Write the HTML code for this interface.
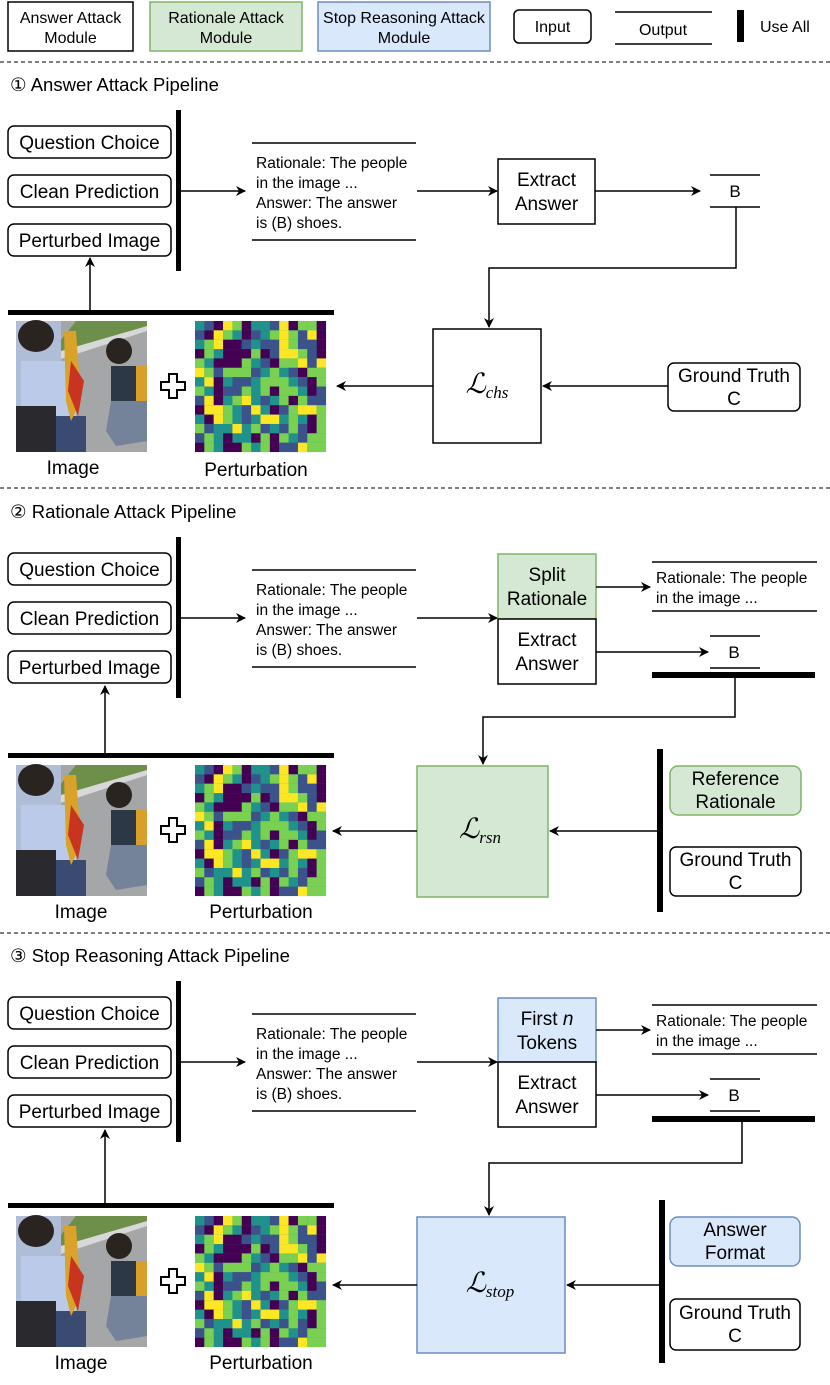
<!DOCTYPE html>
<html><head><meta charset="utf-8"><style>
html,body{margin:0;padding:0;background:#fff}
svg{display:block}
text{font-family:"Liberation Sans",sans-serif;fill:#000}
.p{fill:#440154}.b{fill:#3b528b}.g{fill:#7ad151}.y{fill:#fde725}.t{fill:#21918c}
.bx{fill:#fff;stroke:#000;stroke-width:1.5}
.gr{fill:#d5e8d4;stroke:#82b366;stroke-width:1.5}
.bl{fill:#dae8fc;stroke:#6c8ebf;stroke-width:1.5}
.ln{stroke:#000;stroke-width:1.5;fill:none}
.bar{fill:#000}
.m{font-size:19px}
.lg{font-size:16px}
.ti{font-size:18.5px}
.L{font-family:"Liberation Serif",serif;font-style:italic;font-size:28px}
.L tspan{font-size:17px}
</style></head><body>
<svg width="830" height="1385" viewBox="0 0 830 1385" xmlns="http://www.w3.org/2000/svg">
<defs>
<marker id="ar" markerWidth="10" markerHeight="10" refX="9" refY="5" orient="auto" markerUnits="userSpaceOnUse"><path d="M0,0 L10,5 L0,10 L3,5 z" fill="#000"/></marker>
<g id="img">
<rect width="131" height="131" fill="#a4a6a8"/>
<path d="M60,0 L131,0 L131,8 L40,40 L40,25 Z" fill="#6d8f4a"/>
<path d="M45,30 L131,5 L131,10 L45,38Z" fill="#d8d8d8"/>
<rect x="0" y="0" width="45" height="131" fill="#b0bdd6"/>
<ellipse cx="20" cy="15" rx="18" ry="16" fill="#2a2420"/>
<rect x="5" y="40" width="55" height="60" fill="#bccaea"/>
<rect x="0" y="85" width="40" height="46" fill="#2a2a2e"/>
<rect x="40" y="95" width="30" height="36" fill="#3a4a70"/>
<path d="M48,10 L60,10 L65,80 L55,100 L50,80 Z" fill="#d9a22a"/>
<path d="M55,40 L68,60 L62,95 L52,70Z" fill="#c83420"/>
<ellipse cx="103" cy="30" rx="13" ry="13" fill="#2a2420"/>
<rect x="95" y="45" width="36" height="40" fill="#2c3846"/>
<rect x="120" y="45" width="11" height="35" fill="#d8a02a"/>
<path d="M95,80 L131,80 L131,120 L100,125 L90,110Z" fill="#74829a"/>
</g>
<g id="pert" transform="scale(9.36)">
<rect width="14" height="14" class="t"/>
<rect x="1" y="0" width="1" height="1" class="b"/><rect x="2" y="0" width="1" height="1" class="p"/><rect x="3" y="0" width="1" height="1" class="y"/><rect x="4" y="0" width="1" height="1" class="g"/><rect x="5" y="0" width="1" height="1" class="p"/><rect x="8" y="0" width="1" height="1" class="b"/><rect x="9" y="0" width="1" height="1" class="y"/><rect x="10" y="0" width="1" height="1" class="p"/><rect x="11" y="0" width="1" height="1" class="g"/><rect x="12" y="0" width="1" height="1" class="g"/><rect x="13" y="0" width="1" height="1" class="p"/>
<rect x="0" y="1" width="1" height="1" class="b"/><rect x="1" y="1" width="1" height="1" class="p"/><rect x="2" y="1" width="1" height="1" class="y"/><rect x="3" y="1" width="1" height="1" class="g"/><rect x="5" y="1" width="1" height="1" class="p"/><rect x="6" y="1" width="1" height="1" class="b"/><rect x="8" y="1" width="1" height="1" class="g"/><rect x="9" y="1" width="1" height="1" class="y"/><rect x="10" y="1" width="1" height="1" class="g"/><rect x="11" y="1" width="1" height="1" class="b"/><rect x="12" y="1" width="1" height="1" class="y"/><rect x="13" y="1" width="1" height="1" class="p"/>
<rect x="1" y="2" width="1" height="1" class="g"/><rect x="2" y="2" width="1" height="1" class="y"/><rect x="3" y="2" width="2" height="1" class="p"/><rect x="5" y="2" width="1" height="1" class="b"/><rect x="7" y="2" width="2" height="1" class="b"/><rect x="9" y="2" width="1" height="1" class="y"/><rect x="10" y="2" width="1" height="1" class="g"/><rect x="11" y="2" width="2" height="1" class="b"/><rect x="13" y="2" width="1" height="1" class="p"/>
<rect x="0" y="3" width="1" height="1" class="p"/><rect x="1" y="3" width="1" height="1" class="g"/><rect x="3" y="3" width="3" height="1" class="p"/><rect x="6" y="3" width="1" height="1" class="g"/><rect x="7" y="3" width="1" height="1" class="p"/><rect x="8" y="3" width="1" height="1" class="b"/><rect x="9" y="3" width="2" height="1" class="y"/><rect x="11" y="3" width="1" height="1" class="g"/><rect x="12" y="3" width="1" height="1" class="b"/><rect x="13" y="3" width="1" height="1" class="p"/>
<rect x="0" y="4" width="1" height="1" class="g"/><rect x="2" y="4" width="3" height="1" class="p"/><rect x="5" y="4" width="1" height="1" class="g"/><rect x="7" y="4" width="1" height="1" class="b"/><rect x="8" y="4" width="1" height="1" class="p"/><rect x="9" y="4" width="2" height="1" class="g"/><rect x="11" y="4" width="1" height="1" class="y"/><rect x="12" y="4" width="1" height="1" class="b"/><rect x="13" y="4" width="1" height="1" class="y"/>
<rect x="0" y="5" width="1" height="1" class="y"/><rect x="1" y="5" width="1" height="1" class="g"/><rect x="2" y="5" width="1" height="1" class="b"/><rect x="3" y="5" width="3" height="1" class="g"/><rect x="6" y="5" width="1" height="1" class="b"/><rect x="8" y="5" width="1" height="1" class="g"/><rect x="10" y="5" width="1" height="1" class="b"/><rect x="11" y="5" width="1" height="1" class="p"/><rect x="12" y="5" width="2" height="1" class="g"/>
<rect x="1" y="6" width="1" height="1" class="y"/><rect x="2" y="6" width="1" height="1" class="p"/><rect x="4" y="6" width="2" height="1" class="b"/><rect x="7" y="6" width="3" height="1" class="g"/><rect x="11" y="6" width="1" height="1" class="b"/><rect x="12" y="6" width="1" height="1" class="p"/><rect x="13" y="6" width="1" height="1" class="g"/>
<rect x="0" y="7" width="1" height="1" class="g"/><rect x="2" y="7" width="1" height="1" class="p"/><rect x="3" y="7" width="2" height="1" class="b"/><rect x="5" y="7" width="1" height="1" class="g"/><rect x="7" y="7" width="1" height="1" class="g"/><rect x="8" y="7" width="1" height="1" class="p"/><rect x="9" y="7" width="2" height="1" class="g"/><rect x="12" y="7" width="1" height="1" class="p"/><rect x="13" y="7" width="1" height="1" class="b"/>
<rect x="0" y="8" width="1" height="1" class="b"/><rect x="1" y="8" width="1" height="1" class="y"/><rect x="2" y="8" width="1" height="1" class="p"/><rect x="4" y="8" width="1" height="1" class="g"/><rect x="5" y="8" width="1" height="1" class="y"/><rect x="7" y="8" width="1" height="1" class="b"/><rect x="9" y="8" width="1" height="1" class="g"/><rect x="10" y="8" width="1" height="1" class="p"/><rect x="11" y="8" width="1" height="1" class="g"/><rect x="12" y="8" width="2" height="1" class="b"/>
<rect x="0" y="9" width="1" height="1" class="p"/><rect x="1" y="9" width="2" height="1" class="y"/><rect x="3" y="9" width="1" height="1" class="g"/><rect x="5" y="9" width="1" height="1" class="b"/><rect x="6" y="9" width="1" height="1" class="y"/><rect x="8" y="9" width="1" height="1" class="p"/><rect x="9" y="9" width="1" height="1" class="b"/><rect x="10" y="9" width="1" height="1" class="g"/><rect x="11" y="9" width="2" height="1" class="y"/><rect x="13" y="9" width="1" height="1" class="g"/>
<rect x="1" y="10" width="1" height="1" class="p"/><rect x="2" y="10" width="1" height="1" class="y"/><rect x="3" y="10" width="1" height="1" class="g"/><rect x="5" y="10" width="1" height="1" class="b"/><rect x="7" y="10" width="2" height="1" class="y"/><rect x="10" y="10" width="1" height="1" class="g"/><rect x="12" y="10" width="1" height="1" class="p"/><rect x="13" y="10" width="1" height="1" class="g"/>
<rect x="0" y="11" width="1" height="1" class="g"/><rect x="1" y="11" width="1" height="1" class="b"/><rect x="4" y="11" width="1" height="1" class="y"/><rect x="6" y="11" width="1" height="1" class="g"/><rect x="7" y="11" width="1" height="1" class="b"/><rect x="9" y="11" width="1" height="1" class="b"/><rect x="10" y="11" width="1" height="1" class="g"/><rect x="11" y="11" width="1" height="1" class="b"/><rect x="12" y="11" width="1" height="1" class="p"/><rect x="13" y="11" width="1" height="1" class="g"/>
<rect x="0" y="12" width="1" height="1" class="b"/><rect x="1" y="12" width="1" height="1" class="g"/><rect x="3" y="12" width="1" height="1" class="p"/><rect x="6" y="12" width="1" height="1" class="p"/><rect x="7" y="12" width="1" height="1" class="g"/><rect x="8" y="12" width="1" height="1" class="p"/><rect x="9" y="12" width="1" height="1" class="g"/><rect x="11" y="12" width="1" height="1" class="b"/><rect x="12" y="12" width="2" height="1" class="g"/>
<rect x="0" y="13" width="1" height="1" class="p"/><rect x="1" y="13" width="1" height="1" class="g"/><rect x="3" y="13" width="2" height="1" class="p"/><rect x="5" y="13" width="1" height="1" class="g"/><rect x="7" y="13" width="1" height="1" class="g"/><rect x="8" y="13" width="1" height="1" class="p"/><rect x="9" y="13" width="2" height="1" class="b"/><rect x="11" y="13" width="1" height="1" class="y"/><rect x="12" y="13" width="2" height="1" class="g"/>
</g>
<g id="plus"><path d="M-4,-12 H4 V-4 H12 V4 H4 V12 H-4 V4 H-12 V-4 H-4 Z" fill="#fff" stroke="#000" stroke-width="2"/></g>
<g id="inputs">
<rect class="bx" x="8" y="126" width="163" height="32" rx="6"/><text x="89.5" y="149" font-size="19" text-anchor="middle">Question Choice</text>
<rect class="bx" x="8" y="175" width="163" height="32" rx="6"/><text x="89.5" y="198" font-size="19" text-anchor="middle">Clean Prediction</text>
<rect class="bx" x="8" y="224" width="163" height="32" rx="6"/><text x="89.5" y="247" font-size="19" text-anchor="middle">Perturbed Image</text>
<rect class="bar" x="176" y="110" width="5" height="161"/>
<line class="ln" x1="181" y1="191" x2="245" y2="191" marker-end="url(#ar)"/>
<line class="ln" x1="252" y1="143" x2="416" y2="143"/><line class="ln" x1="252" y1="240" x2="416" y2="240"/>
<text x="256" y="168" font-size="15.5">Rationale: The people</text>
<text x="256" y="188" font-size="15.5">in the image ...</text>
<text x="256" y="208" font-size="15.5">Answer: The answer</text>
<text x="256" y="228" font-size="15.5">is (B) shoes.</text>
<line class="ln" x1="417" y1="191" x2="497" y2="191" marker-end="url(#ar)"/>
</g>
</defs>

<!-- legend -->
<rect class="bx" x="8" y="2" width="125" height="49"/>
<text x="70.5" y="23" class="lg" text-anchor="middle">Answer Attack</text><text x="70.5" y="43" class="lg" text-anchor="middle">Module</text>
<rect class="gr" x="150" y="2" width="152" height="49"/>
<text x="226" y="23" class="lg" text-anchor="middle">Rationale Attack</text><text x="226" y="43" class="lg" text-anchor="middle">Module</text>
<rect class="bl" x="318" y="2" width="172" height="49"/>
<text x="404" y="23" class="lg" text-anchor="middle">Stop Reasoning Attack</text><text x="404" y="43" class="lg" text-anchor="middle">Module</text>
<rect class="bx" x="514" y="10" width="77" height="33" rx="5"/><text x="552.5" y="32" class="lg" text-anchor="middle">Input</text>
<line class="ln" x1="615" y1="12" x2="712" y2="12"/><line class="ln" x1="615" y1="44" x2="712" y2="44"/>
<text x="663" y="35" class="lg" text-anchor="middle">Output</text>
<rect class="bar" x="737" y="10" width="7" height="32"/>
<text x="760" y="32" class="lg">Use All</text>
<line x1="0" y1="62" x2="830" y2="62" stroke="#000" stroke-width="1" stroke-dasharray="4,3"/>

<!-- pipeline 1 -->
<text x="10" y="91" class="ti">① Answer Attack Pipeline</text>
<use href="#inputs"/>
<rect class="bx" x="498" y="159" width="97" height="65"/>
<text x="546.5" y="186" class="m" text-anchor="middle">Extract</text><text x="546.5" y="210" class="m" text-anchor="middle">Answer</text>
<line class="ln" x1="595" y1="191" x2="700" y2="191" marker-end="url(#ar)"/>
<line class="ln" x1="710" y1="175" x2="760" y2="175"/><line class="ln" x1="710" y1="207" x2="760" y2="207"/>
<text x="735" y="197" font-size="17" text-anchor="middle">B</text>
<path class="ln" d="M736,207 V268 H489 V327" marker-end="url(#ar)"/>
<rect class="bx" x="433" y="329" width="108" height="114"/>
<text x="487" y="393" class="L" text-anchor="middle">ℒ<tspan dy="5">chs</tspan></text>
<rect class="bx" x="668" y="363" width="132" height="48" rx="6"/>
<text x="734" y="382" class="m" text-anchor="middle">Ground Truth</text><text x="734" y="405" class="m" text-anchor="middle">C</text>
<line class="ln" x1="668" y1="386" x2="543" y2="386" marker-end="url(#ar)"/>
<line class="ln" x1="433" y1="386" x2="337" y2="386" marker-end="url(#ar)"/>
<rect class="bar" x="8" y="310" width="326" height="5"/>
<line class="ln" x1="90" y1="310" x2="90" y2="258" marker-end="url(#ar)"/>
<use href="#img" x="16" y="321"/><use href="#plus" x="173" y="386"/><use href="#pert" transform="translate(195,321)"/>
<text x="73" y="474" font-size="19" text-anchor="middle">Image</text><text x="256" y="476" font-size="19" text-anchor="middle">Perturbation</text>
<line x1="0" y1="488" x2="830" y2="488" stroke="#000" stroke-width="1" stroke-dasharray="4,3"/>

<!-- pipeline 2 -->
<text x="10" y="518" class="ti">② Rationale Attack Pipeline</text>
<use href="#inputs" y="427"/>
<rect class="gr" x="498" y="554" width="98" height="65"/>
<text x="547" y="581" class="m" text-anchor="middle">Split</text><text x="547" y="605" class="m" text-anchor="middle">Rationale</text>
<rect class="bx" x="498" y="619" width="98" height="65"/>
<text x="547" y="646" class="m" text-anchor="middle">Extract</text><text x="547" y="670" class="m" text-anchor="middle">Answer</text>
<line class="ln" x1="596" y1="587" x2="650" y2="587" marker-end="url(#ar)"/>
<line class="ln" x1="652" y1="562" x2="817" y2="562"/><line class="ln" x1="652" y1="611" x2="817" y2="611"/>
<text x="656" y="583" font-size="15.5">Rationale: The people</text><text x="656" y="603" font-size="15.5">in the image ...</text>
<line class="ln" x1="596" y1="652" x2="708" y2="652" marker-end="url(#ar)"/>
<line class="ln" x1="710" y1="636" x2="760" y2="636"/><line class="ln" x1="710" y1="668" x2="760" y2="668"/>
<text x="734" y="658" font-size="17" text-anchor="middle">B</text>
<rect class="bar" x="652" y="672" width="163" height="6"/>
<path class="ln" d="M735,678 V717 H483 V764" marker-end="url(#ar)"/>
<rect class="gr" x="417" y="766" width="131" height="131"/>
<text x="480" y="838" class="L" text-anchor="middle">ℒ<tspan dy="5">rsn</tspan></text>
<rect class="bar" x="657" y="749" width="6" height="163"/>
<rect class="gr" x="670" y="766" width="131" height="49" rx="8"/>
<text x="735.5" y="785" class="m" text-anchor="middle">Reference</text><text x="735.5" y="808" class="m" text-anchor="middle">Rationale</text>
<rect class="bx" x="670" y="847" width="131" height="49" rx="6"/>
<text x="735.5" y="866" class="m" text-anchor="middle">Ground Truth</text><text x="735.5" y="889" class="m" text-anchor="middle">C</text>
<line class="ln" x1="657" y1="831" x2="550" y2="831" marker-end="url(#ar)"/>
<line class="ln" x1="417" y1="831" x2="333" y2="831" marker-end="url(#ar)"/>
<rect class="bar" x="8" y="753" width="326" height="5"/>
<line class="ln" x1="105" y1="753" x2="105" y2="686" marker-end="url(#ar)"/>
<use href="#img" x="16" y="765"/><use href="#plus" x="173" y="830"/><use href="#pert" transform="translate(195,765)"/>
<text x="81" y="918" font-size="19" text-anchor="middle">Image</text><text x="261" y="918" font-size="19" text-anchor="middle">Perturbation</text>
<line x1="0" y1="933" x2="830" y2="933" stroke="#000" stroke-width="1" stroke-dasharray="4,3"/>

<!-- pipeline 3 -->
<text x="10" y="962" class="ti">③ Stop Reasoning Attack Pipeline</text>
<use href="#inputs" y="871"/>
<rect class="bl" x="498" y="998" width="98" height="64"/>
<text x="547" y="1025" class="m" text-anchor="middle">First <tspan font-style="italic">n</tspan></text><text x="547" y="1049" class="m" text-anchor="middle">Tokens</text>
<rect class="bx" x="498" y="1062" width="98" height="65"/>
<text x="547" y="1089" class="m" text-anchor="middle">Extract</text><text x="547" y="1113" class="m" text-anchor="middle">Answer</text>
<line class="ln" x1="596" y1="1030" x2="650" y2="1030" marker-end="url(#ar)"/>
<line class="ln" x1="652" y1="1005" x2="817" y2="1005"/><line class="ln" x1="652" y1="1054" x2="817" y2="1054"/>
<text x="656" y="1026" font-size="15.5">Rationale: The people</text><text x="656" y="1046" font-size="15.5">in the image ...</text>
<line class="ln" x1="596" y1="1095" x2="708" y2="1095" marker-end="url(#ar)"/>
<line class="ln" x1="710" y1="1079" x2="760" y2="1079"/><line class="ln" x1="710" y1="1111" x2="760" y2="1111"/>
<text x="734" y="1101" font-size="17" text-anchor="middle">B</text>
<rect class="bar" x="652" y="1116" width="163" height="6"/>
<path class="ln" d="M742,1122 V1163 H489 V1215" marker-end="url(#ar)"/>
<rect class="bl" x="417" y="1217" width="148" height="136"/>
<text x="490" y="1292" class="L" text-anchor="middle">ℒ<tspan dy="5">stop</tspan></text>
<rect class="bar" x="659" y="1200" width="6" height="163"/>
<rect class="bl" x="670" y="1217" width="130" height="49" rx="8"/>
<text x="735" y="1236" class="m" text-anchor="middle">Answer</text><text x="735" y="1259" class="m" text-anchor="middle">Format</text>
<rect class="bx" x="670" y="1299" width="130" height="51" rx="6"/>
<text x="735" y="1319" class="m" text-anchor="middle">Ground Truth</text><text x="735" y="1342" class="m" text-anchor="middle">C</text>
<line class="ln" x1="659" y1="1285" x2="567" y2="1285" marker-end="url(#ar)"/>
<line class="ln" x1="417" y1="1285" x2="333" y2="1285" marker-end="url(#ar)"/>
<rect class="bar" x="8" y="1203" width="326" height="5"/>
<line class="ln" x1="105" y1="1203" x2="105" y2="1130" marker-end="url(#ar)"/>
<use href="#img" x="16" y="1216"/><use href="#plus" x="173" y="1281"/><use href="#pert" transform="translate(195,1216)"/>
<text x="81" y="1369" font-size="19" text-anchor="middle">Image</text><text x="261" y="1369" font-size="19" text-anchor="middle">Perturbation</text>
</svg>
</body></html>
